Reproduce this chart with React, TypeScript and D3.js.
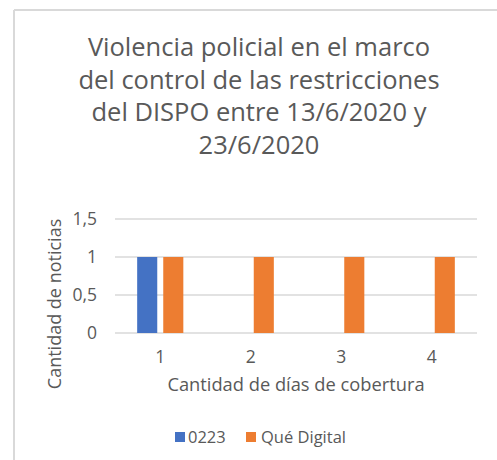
import React from 'react';
import * as d3 from 'd3';

const categories = ['1', '2', '3', '4'];
const seriesNames = ['0223', 'Qué Digital'];
const values0223 = [1, 0, 0, 0];
const valuesQueDigital = [1, 1, 1, 1];
const yTicks = [0, 0.5, 1, 1.5];
const titleLines = [
  'Violencia policial en el marco',
  'del control de las restricciones',
  'del DISPO entre 13/6/2020 y',
  '23/6/2020',
];
const colors = ['#4472C4', '#ED7D31'];

const W = 497;
const H = 460;
const textColor = '#595959';
const font = '"Open Sans", "Noto Sans", sans-serif';

export default function App() {
  const plot = { left: 115, right: 477, top: 219, bottom: 333 };

  const x0 = d3.scaleBand<string>()
    .domain(categories)
    .range([plot.left, plot.right])
    .paddingInner(0.49)
    .paddingOuter(0.245);

  const x1 = d3.scaleBand<string>()
    .domain(seriesNames)
    .range([0, x0.bandwidth()])
    .paddingInner(0.23);

  const y = d3.scaleLinear().domain([0, 1.5]).range([plot.bottom, plot.top]);

  const fmt = (v: number) => String(v).replace('.', ',');

  const series = [values0223, valuesQueDigital];

  return (
    <svg width={W} height={H} style={{ position: 'absolute', left: 0, top: 0, background: '#fff' }}>
      {/* marco del gráfico */}
      <line x1={14} y1={10} x2={14} y2={H} stroke="#d9d9d9" strokeWidth={2} />
      <line x1={14} y1={10} x2={W} y2={10} stroke="#d9d9d9" strokeWidth={2} />

      {/* título */}
      {titleLines.map((t, i) => (
        <text key={i} x={259} y={56 + i * 32.5} textAnchor="middle" fontFamily={font}
          fontSize={25.5} fill={textColor}>{t}</text>
      ))}

      {/* grilla y ticks del eje y */}
      {yTicks.map(t => (
        <g key={t}>
          <line x1={plot.left} x2={plot.right} y1={y(t)} y2={y(t)} stroke="#d9d9d9" strokeWidth={1.5} />
          <text x={97} y={y(t)} dy="0.35em" textAnchor="end" fontFamily={font} fontSize={17.5}
            fill={textColor}>{fmt(t)}</text>
        </g>
      ))}

      {/* barras */}
      {categories.map((c, ci) => (
        <g key={c} transform={`translate(${x0(c)},0)`}>
          {seriesNames.map((s, si) => {
            const v = series[si][ci];
            if (!v) return null;
            return (
              <rect key={s} x={x1(s)} y={y(v)} width={x1.bandwidth()} height={y(0) - y(v)}
                fill={colors[si]} />
            );
          })}
        </g>
      ))}

      {/* ticks del eje x */}
      {categories.map(c => (
        <text key={c} x={(x0(c) ?? 0) + x0.bandwidth() / 2} y={357} dy="0.35em" textAnchor="middle"
          fontFamily={font} fontSize={17.5} fill={textColor}>{c}</text>
      ))}

      {/* títulos de ejes */}
      <text x={296} y={385} dy="0.35em" textAnchor="middle" fontFamily={font} fontSize={18.3}
        fill={textColor}>Cantidad de días de cobertura</text>
      <text transform="translate(55,304) rotate(-90)" dy="0.35em" textAnchor="middle"
        fontFamily={font} fontSize={18} fill={textColor}>Cantidad de noticias</text>

      {/* leyenda */}
      <rect x={175} y={432} width={10} height={10} fill={colors[0]} />
      <text x={188} y={437} dy="0.35em" fontFamily={font} fontSize={16.5} fill={textColor}>{seriesNames[0]}</text>
      <rect x={246} y={432} width={10} height={10} fill={colors[1]} />
      <text x={261} y={437} dy="0.35em" fontFamily={font} fontSize={16.5} fill={textColor}>{seriesNames[1]}</text>
    </svg>
  );
}
